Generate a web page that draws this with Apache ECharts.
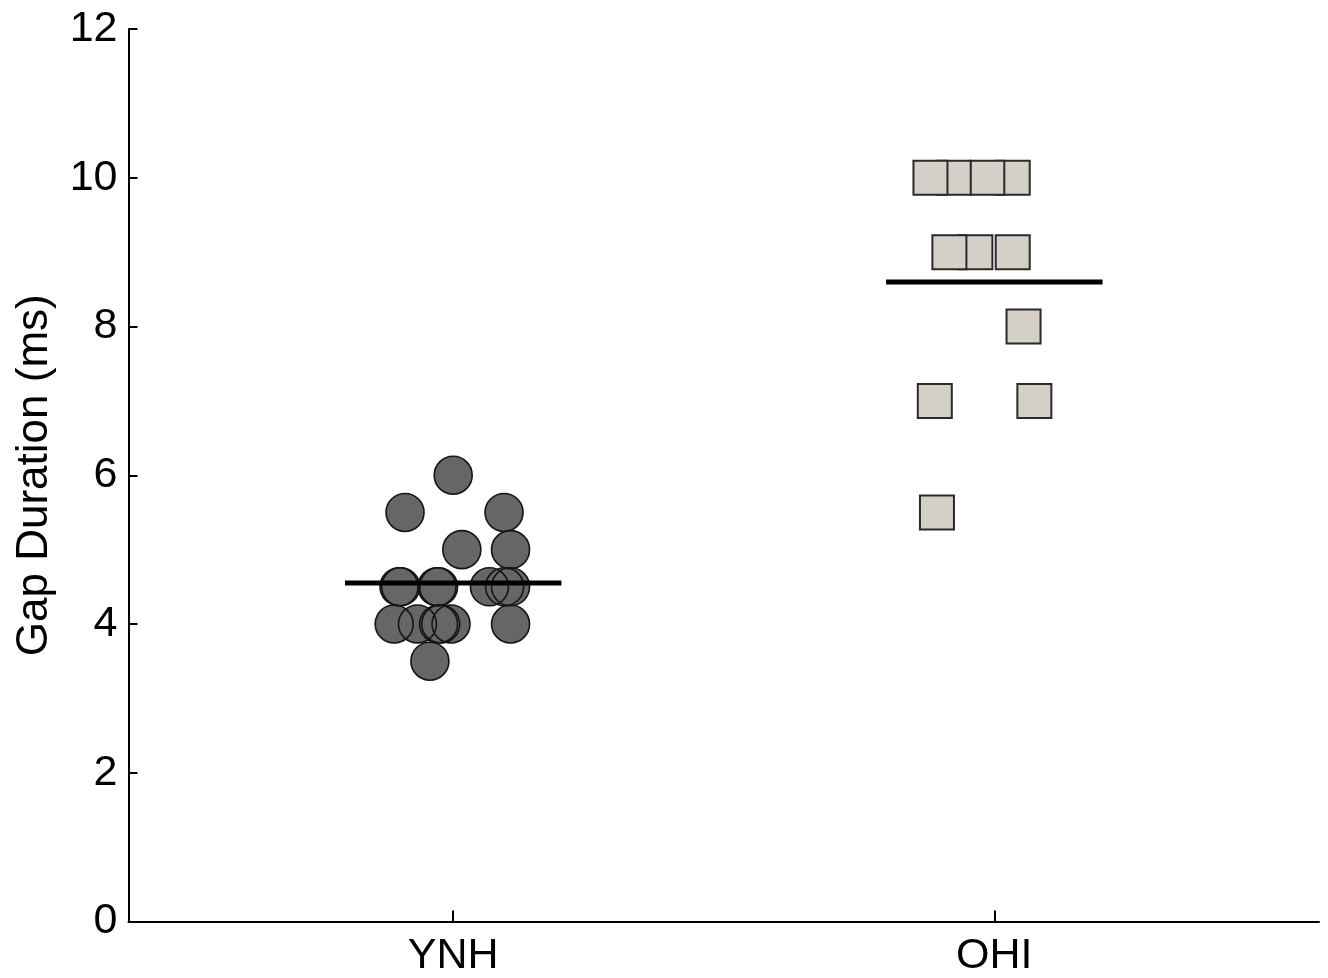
<!DOCTYPE html>
<html>
<head>
<meta charset="utf-8">
<script src="https://cdn.jsdelivr.net/npm/echarts@6/dist/echarts.min.js"></script>
<style>
  html, body { margin: 0; padding: 0; background: #fff; }
  #chart { width: 1328px; height: 978px; }
</style>
</head>
<body>
<div id="chart"></div>
<script>
// Group names, placed at x = 1 and x = 2 on the axis
const groups = ['YNH', 'OHI'];

// Gap duration thresholds (ms) per listener, young normal-hearing group
const ynhValues = [6.0, 5.5, 5.5, 5.0, 5.0,
                   4.5, 4.5, 4.5, 4.5, 4.5, 4.5, 4.5,
                   4.0, 4.0, 4.0, 4.0, 4.0, 4.0,
                   3.5];
// Horizontal jitter of each YNH point around its group centre
const ynhJitter = [0.00, -0.089, 0.094, 0.016, 0.106,
                   -0.100, -0.097, -0.030, -0.027, 0.067, 0.095, 0.106,
                   -0.109, -0.066, -0.027, -0.023, -0.004, 0.106,
                   -0.043];

// Older hearing-impaired group
const ohiValues = [10, 10, 10, 10, 9, 9, 9, 8, 7, 7, 5.5];
const ohiJitter = [0.034, -0.013, -0.075, -0.118, 0.034, -0.035, -0.083, 0.054, -0.110, 0.074, -0.106];

// Group means drawn as horizontal bars
const groupMeans = [4.55, 8.6];

// Y-axis tick values
const yTicks = [0, 2, 4, 6, 8, 10, 12];

const FONT = '"Liberation Sans", Arial, sans-serif';

function points(values, jitter, centre) {
  return values.map((v, i) => [centre + jitter[i], v]);
}
function meanBar(i) {
  const c = i + 1;
  return [[c - 0.2, groupMeans[i]], [c + 0.2, groupMeans[i]]];
}

const ynhPts = points(ynhValues, ynhJitter, 1);
const ohiPts = points(ohiValues, ohiJitter, 2);

const chart = echarts.init(document.getElementById('chart'), null, { renderer: 'canvas' });
chart.setOption({
  backgroundColor: '#ffffff',
  animation: false,
  grid: { left: 128.5, right: 9, top: 29, bottom: 56.5, containLabel: false, outerBoundsMode: 'none' },
  xAxis: {
    type: 'value',
    min: 0.4,
    max: 2.6,
    axisLine: { show: true, lineStyle: { color: '#000', width: 2 } },
    axisTick: { show: true, inside: true, length: 11, customValues: [1, 2], lineStyle: { color: '#000', width: 2 } },
    axisLabel: {
      show: true,
      customValues: [1, 2],
      formatter: v => groups[Math.round(v) - 1] || '',
      color: '#000', fontSize: 43, fontFamily: FONT, margin: 13
    },
    splitLine: { show: false }
  },
  yAxis: {
    type: 'value',
    min: yTicks[0],
    max: yTicks[yTicks.length - 1],
    interval: 2,
    name: 'Gap Duration (ms)',
    nameLocation: 'middle',
    nameGap: 72,
    nameTextStyle: { color: '#000', fontSize: 44, fontFamily: FONT },
    axisLine: { show: true, lineStyle: { color: '#000', width: 2 } },
    axisTick: { show: true, inside: true, length: 9, lineStyle: { color: '#000', width: 2 } },
    axisLabel: { color: '#000', fontSize: 43, fontFamily: FONT, margin: 11 },
    splitLine: { show: false }
  },
  series: [
    {
      // YNH circle faces
      type: 'scatter', data: ynhPts, symbol: 'circle', symbolSize: 38, z: 2,
      itemStyle: { color: '#666666', borderWidth: 0, opacity: 1 },
      emphasis: { disabled: true }
    },
    {
      // YNH circle outlines, drawn over all faces
      type: 'scatter', data: ynhPts, symbol: 'circle', symbolSize: 38, z: 3,
      itemStyle: { color: 'rgba(0,0,0,0)', borderColor: '#151515', borderWidth: 1.6, opacity: 1 },
      emphasis: { disabled: true }
    },
    {
      // OHI squares
      type: 'scatter', data: ohiPts, symbol: 'rect', symbolSize: 34, z: 2,
      itemStyle: { color: '#d4d0c8', borderColor: '#2a2a2a', borderWidth: 2, opacity: 1 },
      emphasis: { disabled: true }
    },
    {
      type: 'line', data: meanBar(0), symbol: 'none', z: 5,
      lineStyle: { color: '#000', width: 5, cap: 'butt' }, emphasis: { disabled: true }
    },
    {
      type: 'line', data: meanBar(1), symbol: 'none', z: 5,
      lineStyle: { color: '#000', width: 5, cap: 'butt' }, emphasis: { disabled: true }
    }
  ]
});
</script>
</body>
</html>
